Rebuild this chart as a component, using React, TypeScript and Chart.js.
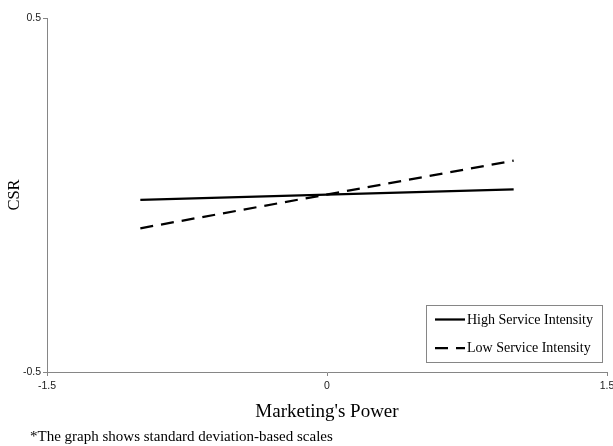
import React, { useEffect, useRef } from "react";
import { Chart, registerables } from "chart.js";

Chart.register(...registerables);

const xValues = [-1, 1];
const highServiceValues = [-0.014, 0.016];
const lowServiceValues = [-0.094, 0.097];
const seriesLabels = ["High Service Intensity", "Low Service Intensity"];
const xTickValues = [-1.5, 0, 1.5];
const yTickValues = [-0.5, 0.5];
const xTitle = "Marketing's Power";
const yTitle = "CSR";
const footnote = "*The graph shows standard deviation-based scales";

const AXIS_COLOR = "#868686";
const SERIF = "'Liberation Serif', 'Times New Roman', serif";
const SANS = "'Liberation Sans', Arial, sans-serif";

const boxLegendPlugin = {
  id: "boxLegend",
  afterDraw(chart: any) {
    const { ctx, chartArea } = chart;
    const right = chartArea.right - 4;
    const bottom = chartArea.bottom - 9;
    const w = 177;
    const h = 58;
    const left = right - w;
    const top = bottom - h;
    ctx.save();
    ctx.fillStyle = "#ffffff";
    ctx.fillRect(left, top, w, h);
    ctx.strokeStyle = AXIS_COLOR;
    ctx.lineWidth = 1;
    ctx.strokeRect(left + 0.5, top + 0.5, w - 1, h - 1);
    const rows = [top + 14.5, top + 43];
    chart.data.datasets.forEach((ds: any, i: number) => {
      const y = rows[i];
      ctx.beginPath();
      ctx.strokeStyle = ds.borderColor;
      ctx.lineWidth = ds.borderWidth;
      ctx.setLineDash(ds.borderDash || []);
      ctx.moveTo(left + 9, y);
      ctx.lineTo(left + 39, y);
      ctx.stroke();
      ctx.setLineDash([]);
      ctx.fillStyle = "#000000";
      ctx.font = `14px ${SERIF}`;
      ctx.textBaseline = "middle";
      ctx.textAlign = "left";
      ctx.fillText(ds.label, left + 41, y + 0.5);
    });
    ctx.restore();
  },
};

export default function App() {
  const canvasRef = useRef<HTMLCanvasElement | null>(null);

  useEffect(() => {
    document.body.style.margin = "0";
    const canvas = canvasRef.current;
    if (!canvas) return;
    const chart = new Chart(canvas, {
      type: "line",
      data: {
        datasets: [
          {
            label: seriesLabels[0],
            data: xValues.map((x, i) => ({ x, y: highServiceValues[i] })),
            borderColor: "#000000",
            borderWidth: 2.25,
            pointRadius: 0,
            fill: false,
          },
          {
            label: seriesLabels[1],
            data: xValues.map((x, i) => ({ x, y: lowServiceValues[i] })),
            borderColor: "#000000",
            borderWidth: 2.25,
            borderDash: [13, 8],
            pointRadius: 0,
            fill: false,
          },
        ],
      },
      options: {
        animation: false,
        responsive: false,
        maintainAspectRatio: false,
        layout: { padding: { left: 0, top: 18, right: 6, bottom: 0 } },
        plugins: {
          legend: { display: false },
          tooltip: { enabled: false },
        },
        scales: {
          x: {
            type: "linear",
            min: -1.5,
            max: 1.5,
            afterBuildTicks: (scale: any) => {
              scale.ticks = xTickValues.map((v) => ({ value: v }));
            },
            afterFit: (scale: any) => {
              scale.height = 74;
              scale.paddingLeft = 0;
              scale.paddingRight = 0;
            },
            grid: {
              drawOnChartArea: false,
              drawTicks: true,
              tickLength: 4,
              color: AXIS_COLOR,
            },
            border: { display: true, color: AXIS_COLOR, width: 1 },
            ticks: {
              font: { family: SANS, size: 10.5 },
              color: "#1a1a1a",
              padding: 4,
              maxRotation: 0,
              callback: (v: any) => String(v),
            },
            title: {
              display: true,
              text: xTitle,
              font: { family: SERIF, size: 19, lineHeight: 1.2 },
              color: "#000000",
              padding: { top: 0, bottom: 23 },
            },
          },
          y: {
            type: "linear",
            min: -0.5,
            max: 0.5,
            afterBuildTicks: (scale: any) => {
              scale.ticks = yTickValues.map((v) => ({ value: v }));
            },
            afterFit: (scale: any) => {
              scale.width = 47;
              scale.paddingTop = 0;
              scale.paddingBottom = 0;
            },
            grid: {
              drawOnChartArea: false,
              drawTicks: true,
              tickLength: 4,
              color: AXIS_COLOR,
            },
            border: { display: true, color: AXIS_COLOR, width: 1 },
            ticks: {
              font: { family: SANS, size: 10.5 },
              color: "#1a1a1a",
              padding: 2,
              callback: (v: any) => String(v),
            },
            title: {
              display: true,
              text: yTitle,
              font: { family: SERIF, size: 16.5, lineHeight: 1.2 },
              color: "#000000",
              padding: { top: 5, bottom: 0 },
            },
          },
        },
      },
      plugins: [boxLegendPlugin],
    } as any);
    return () => chart.destroy();
  }, []);

  return (
    <div style={{ position: "relative", width: 613, height: 446 }}>
      <canvas ref={canvasRef} width={613} height={446} style={{ display: "block" }} />
      <div
        style={{
          position: "absolute",
          left: 30,
          top: 427,
          fontFamily: SERIF,
          fontSize: 15,
          lineHeight: "18px",
          color: "#000000",
          whiteSpace: "nowrap",
        }}
      >
        {footnote}
      </div>
    </div>
  );
}
